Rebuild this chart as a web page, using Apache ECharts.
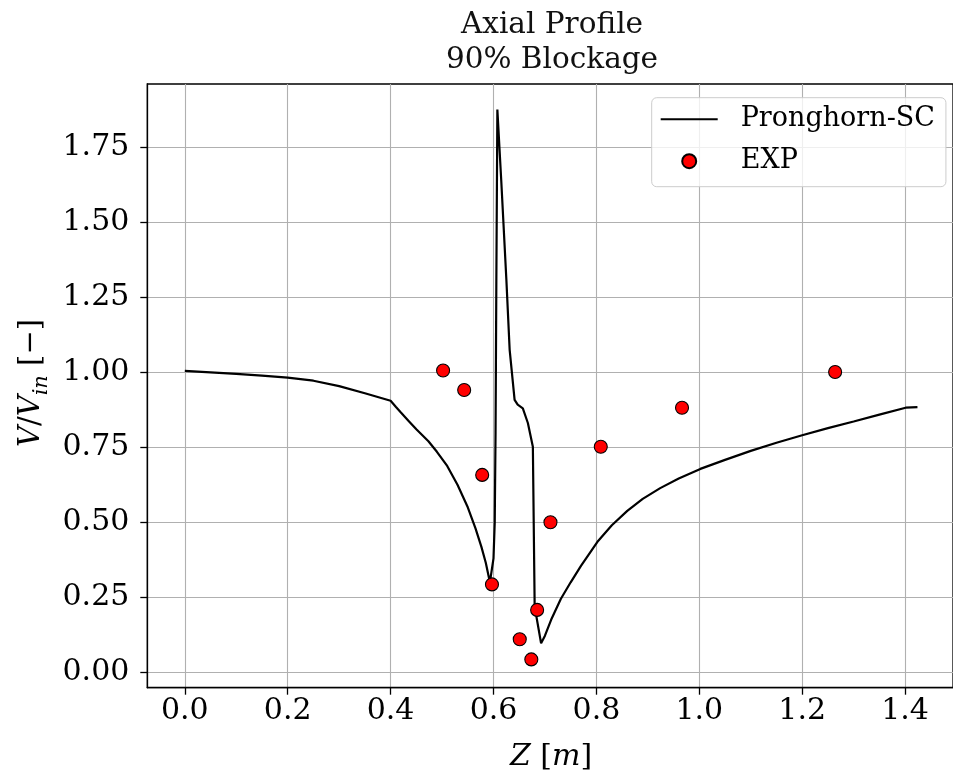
<!DOCTYPE html>
<html><head><meta charset="utf-8">
<script src="https://cdn.jsdelivr.net/npm/echarts@6/dist/echarts.min.js"></script>
<style>html,body{margin:0;padding:0;background:#fff}#c{width:953px;height:771px}</style>
</head><body><div id="c"></div>
<script>
const titleText = 'Axial Profile\n90% Blockage';
const xTicks = [0, 0.2, 0.4, 0.6, 0.8, 1.0, 1.2, 1.4];
const yTicks = [0, 0.25, 0.5, 0.75, 1.0, 1.25, 1.5, 1.75];
const seriesNames = ['Pronghorn-SC', 'EXP'];
const lineZ = [0, 0.05, 0.10, 0.15, 0.20, 0.25, 0.30, 0.35, 0.40, 0.41, 0.42, 0.435, 0.45, 0.4735, 0.49, 0.51, 0.53, 0.55, 0.565, 0.5765, 0.585, 0.593,
  0.600, 0.6024, 0.604, 0.6055, 0.6075, 0.615, 0.625, 0.6314, 0.641, 0.647, 0.657, 0.6668, 0.6765, 0.680, 0.6925,
  0.700, 0.712, 0.731, 0.750, 0.770, 0.802, 0.830, 0.860, 0.890, 0.924, 0.960, 1.002, 1.050, 1.100, 1.150, 1.200, 1.250, 1.300, 1.350, 1.401, 1.424];
const lineV = [1.005, 1.000, 0.995, 0.989, 0.982, 0.972, 0.954, 0.930, 0.905, 0.885, 0.866, 0.838, 0.810, 0.770, 0.735, 0.688, 0.625, 0.550, 0.480, 0.418, 0.365, 0.300,
  0.380, 0.500, 0.800, 1.300, 1.876, 1.641, 1.309, 1.075, 0.908, 0.892, 0.880, 0.831, 0.752, 0.219, 0.097,
  0.122, 0.175, 0.245, 0.300, 0.355, 0.435, 0.490, 0.538, 0.578, 0.614, 0.646, 0.678, 0.708, 0.738, 0.765, 0.790, 0.814, 0.836, 0.859, 0.882, 0.884];
const expZ = [0.502, 0.543, 0.578, 0.597, 0.651, 0.6735, 0.6848, 0.7107, 0.8085, 0.9664, 1.264];
const expV = [1.006, 0.941, 0.658, 0.293, 0.110, 0.043, 0.208, 0.500, 0.752, 0.882, 1.001];

const FONT = 'DejaVu Serif';
const chart = echarts.init(document.getElementById('c'), null, {renderer: 'canvas'});
const option = {
  backgroundColor: '#ffffff',
  animation: false,
  title: {
    text: titleText, left: 547, top: 3, textAlign: 'center',
    textStyle: {fontFamily: FONT, fontWeight: 'normal', fontSize: 29.5, lineHeight: 35, color: '#111'}
  },
  grid: {left: 147.3, top: 84, width: 810.2, height: 603.7, show: true, borderColor: '#000', borderWidth: 1.3, backgroundColor: 'transparent'},
  xAxis: {
    type: 'value', min: -0.0729, max: 1.4931,
    axisLine: {show: true, onZero: false, lineStyle: {color: '#000', width: 1.3}},
    axisTick: {show: true, length: 7, inside: false, customValues: xTicks, lineStyle: {color: '#000', width: 1.3}},
    axisLabel: {customValues: xTicks, margin: 9, fontFamily: FONT, fontSize: 30, color: '#000', formatter: v => v.toFixed(1)},
    splitLine: {show: true, lineStyle: {color: '#b0b0b0', width: 1.1}}
  },
  yAxis: {
    type: 'value', min: -0.0513, max: 1.961,
    axisLine: {show: true, onZero: false, lineStyle: {color: '#000', width: 1.3}},
    axisTick: {show: true, length: 7, inside: false, customValues: yTicks, lineStyle: {color: '#000', width: 1.3}},
    axisLabel: {customValues: yTicks, margin: 18, fontFamily: FONT, fontSize: 30, color: '#000', formatter: v => v.toFixed(2)},
    splitLine: {show: true, lineStyle: {color: '#b0b0b0', width: 1.1}}
  },
  legend: {
    orient: 'vertical', left: 651.7, top: 97.7,
    padding: [8, 11, 12, 8], itemGap: 15, itemWidth: 57, itemHeight: 14,
    backgroundColor: 'rgba(255,255,255,0.8)', borderColor: '#cccccc', borderWidth: 1, borderRadius: 5,
    textStyle: {fontFamily: FONT, fontSize: 27, color: '#000', padding: [0, 0, 0, 18], lineHeight: 27},
    data: [{name: seriesNames[0], itemStyle: {opacity: 0}}, {name: seriesNames[1], icon: 'circle'}]
  },
  graphic: [
    {type: 'text', x: 32, y: 383, rotation: Math.PI / 2, z: 10,
      style: {text: '{v|V}{n|/}{v|V}{s|in}{n| [−]}', align: 'center', verticalAlign: 'middle',
        rich: {
          v: {fontFamily: FONT, fontStyle: 'italic', fontSize: 29, lineHeight: 30, verticalAlign: 'top', fill: '#000'},
          n: {fontFamily: FONT, fontSize: 29, lineHeight: 30, verticalAlign: 'top', fill: '#000'},
          s: {fontFamily: FONT, fontStyle: 'italic', fontSize: 21, lineHeight: 21, padding: [14, 0, 0, 0], verticalAlign: 'top', fill: '#000'}
        }}},
    {type: 'text', x: 551, y: 757, z: 10,
      style: {text: '{i|Z}{n| [}{i|m}{n|]}', align: 'center', verticalAlign: 'middle',
        rich: {
          i: {fontFamily: FONT, fontStyle: 'italic', fontSize: 30, fill: '#000'},
          n: {fontFamily: FONT, fontSize: 30, fill: '#000'}
        }}}
  ],
  series: [
    {name: seriesNames[0], type: 'line', data: lineZ.map((z, i) => [z, lineV[i]]),
      showSymbol: false, symbol: 'none', lineStyle: {color: '#000', width: 2.2}, itemStyle: {color: '#000'}, z: 3},
    {name: seriesNames[1], type: 'scatter', data: expZ.map((z, i) => [z, expV[i]]),
      symbol: 'circle', symbolSize: 13, itemStyle: {color: '#ff0000', borderColor: '#000', borderWidth: 1.1, opacity: 1}, z: 4}
  ]
};
chart.setOption(option);
</script></body></html>
